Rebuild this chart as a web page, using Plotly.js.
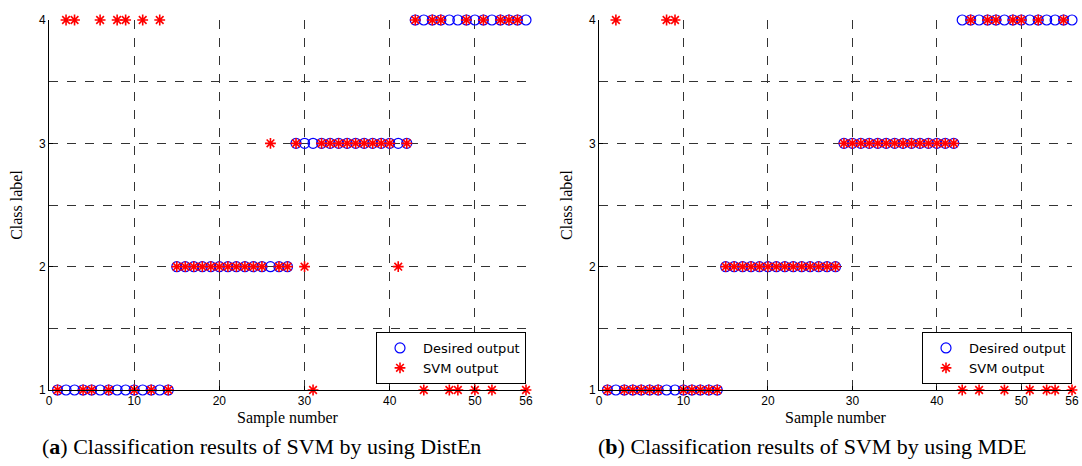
<!DOCTYPE html>
<html><head><meta charset="utf-8">
<script src="https://cdn.plot.ly/plotly-3.0.1.min.js"></script>
<style>html,body{margin:0;padding:0;background:#fff;}#plot{width:1082px;height:466px;}</style>
</head><body><div id="plot"></div>
<script>
const sampleNumber = [1,2,3,4,5,6,7,8,9,10,11,12,13,14,15,16,17,18,19,20,21,22,23,24,25,26,27,28,29,30,31,32,33,34,35,36,37,38,39,40,41,42,43,44,45,46,47,48,49,50,51,52,53,54,55,56];
const desiredOutput = [1,1,1,1,1,1,1,1,1,1,1,1,1,1, 2,2,2,2,2,2,2,2,2,2,2,2,2,2, 3,3,3,3,3,3,3,3,3,3,3,3,3,3, 4,4,4,4,4,4,4,4,4,4,4,4,4,4];
const svmOutputDistEn = [1,4,4,1,1,4,1,4,4,1,4,1,4,1, 2,2,2,2,2,2,2,2,2,2,2,3,2,2, 3,2,1,3,3,3,3,3,3,3,3,3,2,3, 4,1,4,4,1,1,4,1,4,1,4,4,4,1];
const svmOutputMDE = [1,4,1,1,1,1,1,4,4,1,1,1,1,1, 2,2,2,2,2,2,2,2,2,2,2,2,2,2, 3,3,3,3,3,3,3,3,3,3,3,3,3,3, 1,4,1,4,4,1,4,4,1,4,1,1,4,1];
const xTickVals = [0,10,20,30,40,50,56];
const yTickVals = [1,2,3,4];
const captions = ["(<b>a</b>) Classification results of SVM by using DistEn", "(<b>b</b>) Classification results of SVM by using MDE"];

const W = 1082, H = 466;
const px = v => v / W, py = v => 1 - v / H;

function desiredTrace(xa, ya, leg) {
  return {x: sampleNumber, y: desiredOutput, xaxis: xa, yaxis: ya, legend: leg, name: 'Desired output',
    type: 'scatter', mode: 'markers', cliponaxis: false,
    marker: {symbol: 'circle-open', size: 10, color: '#0000ff', line: {color: '#0000ff', width: 1.2}}};
}
function svmTrace(vals, xa, ya, leg) {
  return {x: sampleNumber, y: vals, xaxis: xa, yaxis: ya, legend: leg, name: 'SVM output',
    type: 'scatter', mode: 'markers', cliponaxis: false,
    marker: {symbol: 'asterisk-open', size: 9, color: '#ff0000', line: {color: '#ff0000', width: 1.6}}};
}

const tickFont = {family: 'Liberation Sans, Arial, sans-serif', size: 12, color: '#000'};
const serif = 'Liberation Serif, Times New Roman, serif';

function xAxis(dom) {
  return {domain: dom, range: [0, 56], tickvals: xTickVals, ticktext: xTickVals.map(String),
    showline: true, linecolor: '#000', linewidth: 1, mirror: false,
    ticks: 'inside', ticklen: 4, tickcolor: '#000', tickfont: tickFont,
    showgrid: true, gridcolor: '#333', griddash: 'dash', gridwidth: 1, zeroline: false,
    title: {text: 'Sample number', font: {family: serif, size: 16, color: '#000'}, standoff: 4}};
}
function yAxis(anchor) {
  return {domain: [py(390), py(20)], range: [1, 4], tickvals: yTickVals, ticktext: yTickVals.map(String),
    anchor: anchor,
    showline: true, linecolor: '#000', linewidth: 1, mirror: false,
    ticks: 'inside', ticklen: 4, tickcolor: '#000', tickfont: tickFont,
    showgrid: true, gridcolor: '#333', griddash: 'dash', gridwidth: 1, zeroline: false,
    minor: {dtick: 0.5, tick0: 1, showgrid: true, gridcolor: '#333', griddash: 'dash', gridwidth: 1},
    title: {text: 'Class label', font: {family: serif, size: 16, color: '#000'}, standoff: 12}};
}

const legendBase = {bordercolor: '#000', borderwidth: 1, bgcolor: '#fff',
  font: {family: 'DejaVu Sans, Arial, sans-serif', size: 13, color: '#000'},
  yanchor: 'bottom', xanchor: 'right', tracegroupgap: 0, itemwidth: 36};

const data = [
  desiredTrace('x', 'y', 'legend'), svmTrace(svmOutputDistEn, 'x', 'y', 'legend'),
  desiredTrace('x2', 'y2', 'legend2'), svmTrace(svmOutputMDE, 'x2', 'y2', 'legend2')
];

const layout = {
  width: W, height: H, margin: {l: 0, r: 0, t: 0, b: 0},
  paper_bgcolor: '#fff', plot_bgcolor: '#fff', showlegend: true,
  xaxis: Object.assign(xAxis([px(49), px(526)]), {anchor: 'y'}), yaxis: yAxis('x'),
  xaxis2: Object.assign(xAxis([px(599), px(1072)]), {anchor: 'y2'}), yaxis2: yAxis('x2'),
  legend: Object.assign({}, legendBase, {x: px(526), y: py(384)}),
  legend2: Object.assign({}, legendBase, {x: px(1072), y: py(384)}),
  annotations: [
    {text: captions[0], x: px(261), y: py(446), xref: 'paper', yref: 'paper', showarrow: false,
     font: {family: serif, size: 22, color: '#000'}, xanchor: 'center', yanchor: 'middle'},
    {text: captions[1], x: px(812), y: py(446), xref: 'paper', yref: 'paper', showarrow: false,
     font: {family: serif, size: 22, color: '#000'}, xanchor: 'center', yanchor: 'middle'}
  ]
};
Plotly.newPlot('plot', data, layout, {displayModeBar: false, staticPlot: true});
</script>
</body></html>
